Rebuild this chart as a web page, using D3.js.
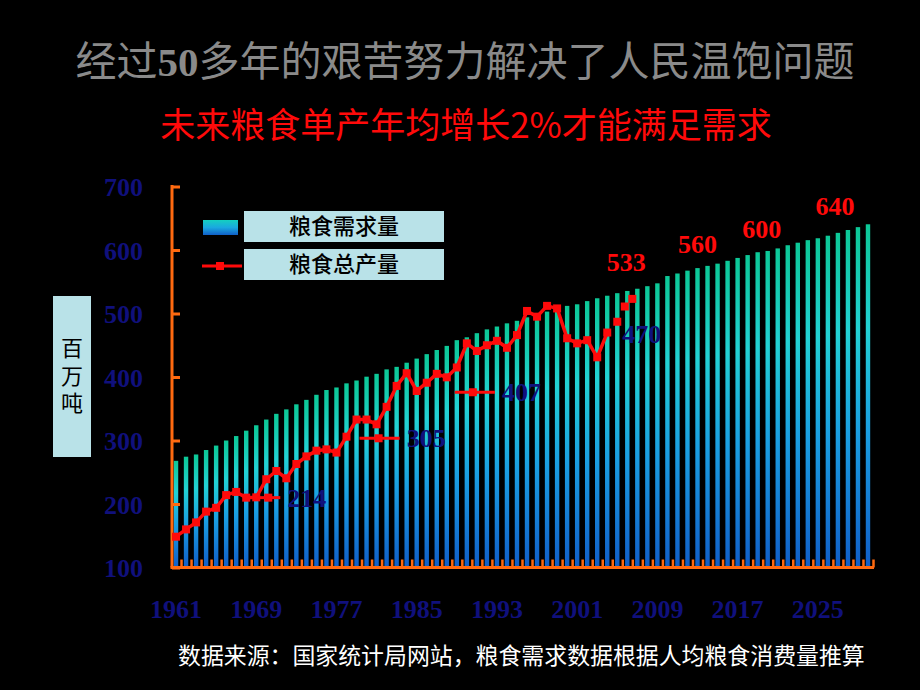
<!DOCTYPE html>
<html><head><meta charset="utf-8">
<script src="https://cdn.jsdelivr.net/npm/d3@7"></script>
<style>
html,body{margin:0;padding:0;background:#000;}
svg{display:block;}
</style></head>
<body>
<svg id="c" width="920" height="690"></svg>
<script>
// ---- data ----
const years = d3.range(1961, 2031);
const demand = [268,274.5,278,285,292,300,307,315.5,324,333,342,349,357,364,372,379.5,383.5,390,394.5,400.5,
  405,412,416,422.5,429,436,442.5,449,458,462.5,469,475,479.5,484.5,488.5,494,498,503,508,512,
  514.5,519.5,524,528,532,535.5,539,543,547.5,559,563,567.5,571.5,575,578.5,583,587.5,592,596.5,598.5,
  602.5,607.5,611.5,615.5,618.5,622.5,627,631.5,636,640.5];
const prodYears = d3.range(1961, 2005);
const production = [148.5,160,171,188,194,214,219,210,210.5,239,252,240.5,263,275,284,286,281,306,333,333,
  325.5,353,386,406,378,391,405,399.5,415,453,441,450,457,446,466,504,495,512,508,461,453,458,431,470];
const recentYears = [2005, 2005.75, 2006.5];
const recentProd = [487, 511, 523];
const yTicks = [100,200,300,400,500,600,700];
const xTickYears = [1961,1969,1977,1985,1993,2001,2009,2017,2025];
const noteText = ["214","305","407"];
const noteFrom = [1969.1,1979.3,1988.8];
const noteTo = [1971.4,1983.3,1992.8];
const noteMark = [1970.2,1981.2,1990.6];
const noteValue = [210,303.5,376];
const plainNoteText = ["470"];
const plainNoteYear = [2005.5];
const plainNoteValue = [468];
const fcText = ["533","560","600","640"];
const fcYear = [2005.9,2013,2019.4,2026.7];
const fcValue = [581,609,633,669];
const title = "经过50多年的艰苦努力解决了人民温饱问题";
const subtitle = "未来粮食单产年均增长2%才能满足需求";
const source = "数据来源：国家统计局网站，粮食需求数据根据人均粮食消费量推算";
const legendLabels = ["粮食需求量","粮食总产量"];
const yLabel = "百万吨";

// ---- setup ----
const svg = d3.select("#c");
svg.append("rect").attr("width",920).attr("height",690).attr("fill","#000");
const ORANGE = "#ff6a10", NAVY = "#10107c", RED = "#ff0a0a";
const serif = "'Liberation Serif','Noto Sans CJK SC',serif";
const cjk = "'Noto Sans CJK SC','Noto Sans',sans-serif";

const x = d3.scaleBand().domain(years).range([171, 873]).paddingInner(0.56).paddingOuter(0.28);
const bw = x.bandwidth();
const xc = d3.scaleLinear().domain([1961, 2030]).range([x(1961)+bw/2, x(2030)+bw/2]);
const y = d3.scaleLinear().domain([100, 700]).range([567.5, 186.5]);

const defs = svg.append("defs");
const g = defs.append("linearGradient").attr("id","bar").attr("x1",0).attr("y1",0).attr("x2",0).attr("y2",1);
[[0,"#0cc896"],[0.3,"#22d2d4"],[0.6,"#1a9fe2"],[1,"#105ec8"]].forEach(([o,c]) =>
  g.append("stop").attr("offset",o).attr("stop-color",c));

// titles
const t = svg.append("text").attr("x",465).attr("y",76).attr("text-anchor","middle")
  .attr("font-family",serif).attr("font-size",41).attr("fill","#8a8a8a");
t.append("tspan").text(title.slice(0,2));
t.append("tspan").attr("font-weight","bold").text(title.slice(2,4));
t.append("tspan").text(title.slice(4));
svg.append("text").attr("x",466).attr("y",138).attr("text-anchor","middle")
  .attr("font-family",cjk).attr("font-size",35).attr("fill",RED).text(subtitle);

// bars
svg.append("g").selectAll("rect").data(years).join("rect")
  .attr("x", d => x(d)).attr("width", bw)
  .attr("y", (d,i) => y(demand[i])).attr("height", (d,i) => y(100) - y(demand[i]))
  .attr("fill","url(#bar)");

// axes
const yAxisG = svg.append("g").attr("transform","translate(172,0)")
  .call(d3.axisRight(y).tickValues(yTicks).tickSize(8).tickFormat(""));
yAxisG.select(".domain").remove();
yAxisG.selectAll("line").attr("stroke",ORANGE).attr("stroke-width",3);
svg.append("line").attr("x1",172).attr("x2",172).attr("y1",y(700)-1.5).attr("y2",y(100))
  .attr("stroke",ORANGE).attr("stroke-width",3);

const yLab = svg.append("g").attr("transform","translate(143,0)")
  .call(d3.axisLeft(y).tickValues(yTicks).tickSize(0).tickPadding(0));
yLab.select(".domain").remove();
yLab.selectAll("text").attr("font-family",serif).attr("font-weight","bold").attr("font-size",26)
  .attr("fill",NAVY).attr("dy","0.35em");

const tickScale = d3.scaleLinear().domain([0, years.length]).range([171, 873]);
const xTickG = svg.append("g").attr("transform",`translate(0,${y(100)})`)
  .call(d3.axisTop(tickScale).tickValues(d3.range(1, years.length+1)).tickSize(8).tickFormat(""));
xTickG.select(".domain").remove();
xTickG.selectAll("line").attr("stroke",ORANGE).attr("stroke-width",2.5);
svg.append("line").attr("x1",170.5).attr("x2",874).attr("y1",y(100)).attr("y2",y(100))
  .attr("stroke",ORANGE).attr("stroke-width",3);

const xLab = svg.append("g").attr("transform",`translate(0,${y(100)})`)
  .call(d3.axisBottom(x).tickValues(xTickYears).tickSize(0).tickPadding(0));
xLab.select(".domain").remove();
xLab.selectAll("text").attr("font-family",serif).attr("font-weight","bold").attr("font-size",26)
  .attr("fill",NAVY).attr("dy","1.95em");

// production line
const line = d3.line().x(d => xc(d[0])).y(d => y(d[1]));
const prod = prodYears.map((yr,i) => [yr, production[i]]);
svg.append("path").datum(prod).attr("d",line).attr("fill","none").attr("stroke",RED)
  .attr("stroke-width",3.5).attr("stroke-linejoin","round");
const recent = recentYears.map((yr,i) => [yr, recentProd[i]]);
const MS = 8;
svg.append("g").selectAll("rect").data(prod.concat(recent)).join("rect")
  .attr("x", d => xc(d[0]) - MS/2).attr("y", d => y(d[1]) - MS/2)
  .attr("width",MS).attr("height",MS).attr("fill",RED);

// annotation mini-legends
noteText.forEach((txt,i) => {
  svg.append("line").attr("x1",xc(noteFrom[i])).attr("x2",xc(noteTo[i]))
    .attr("y1",y(noteValue[i])).attr("y2",y(noteValue[i])).attr("stroke",RED).attr("stroke-width",3);
  svg.append("rect").attr("x",xc(noteMark[i])-MS/2).attr("y",y(noteValue[i])-MS/2)
    .attr("width",MS).attr("height",MS).attr("fill",RED);
  svg.append("text").attr("x",xc(noteTo[i])+7).attr("y",y(noteValue[i])).attr("dy","0.35em")
    .attr("font-family",serif).attr("font-weight","bold").attr("font-size",26).attr("fill",NAVY).text(txt);
});
plainNoteText.forEach((txt,i) => {
  svg.append("text").attr("x",xc(plainNoteYear[i])).attr("y",y(plainNoteValue[i])).attr("dy","0.35em")
    .attr("font-family",serif).attr("font-weight","bold").attr("font-size",26).attr("fill",NAVY).text(txt);
});
fcText.forEach((txt,i) => {
  svg.append("text").attr("x",xc(fcYear[i])).attr("y",y(fcValue[i])).attr("dy","0.35em")
    .attr("text-anchor","middle").attr("font-family",serif).attr("font-weight","bold")
    .attr("font-size",26).attr("fill",RED).text(txt);
});

// legend
const BOX = "#b9e2e8";
legendLabels.forEach((lab,i) => {
  const top = 211 + i*38;
  svg.append("rect").attr("x",244).attr("y",top).attr("width",200).attr("height",31).attr("fill",BOX);
  svg.append("text").attr("x",344).attr("y",top+15.5).attr("dy","0.36em").attr("text-anchor","middle")
    .attr("font-family",cjk).attr("font-size",22).attr("font-weight",500).attr("fill","#000").text(lab);
});
const lg = defs.append("linearGradient").attr("id","lg").attr("x1",0).attr("y1",0).attr("x2",0).attr("y2",1);
[[0,"#14d0c0"],[0.5,"#1aa8e0"],[1,"#1060c8"]].forEach(([o,c]) =>
  lg.append("stop").attr("offset",o).attr("stop-color",c));
svg.append("rect").attr("x",203).attr("y",220).attr("width",35).attr("height",15).attr("fill","url(#lg)");
svg.append("line").attr("x1",202).attr("x2",242).attr("y1",266).attr("y2",266).attr("stroke",RED).attr("stroke-width",3);
svg.append("rect").attr("x",220-MS/2).attr("y",266-MS/2).attr("width",MS).attr("height",MS).attr("fill",RED);

// y label box (vertical text)
svg.append("rect").attr("x",53).attr("y",296).attr("width",38).attr("height",161).attr("fill",BOX);
svg.append("text").attr("x",72).attr("y",378).attr("text-anchor","middle")
  .style("writing-mode","vertical-rl").attr("letter-spacing",5.5)
  .attr("font-family",cjk).attr("font-size",22).attr("fill","#000").text(yLabel);

// source
svg.append("text").attr("x",178).attr("y",664).attr("font-family",cjk).attr("font-size",22.9)
  .attr("fill","#fff").text(source);
</script>
</body></html>
